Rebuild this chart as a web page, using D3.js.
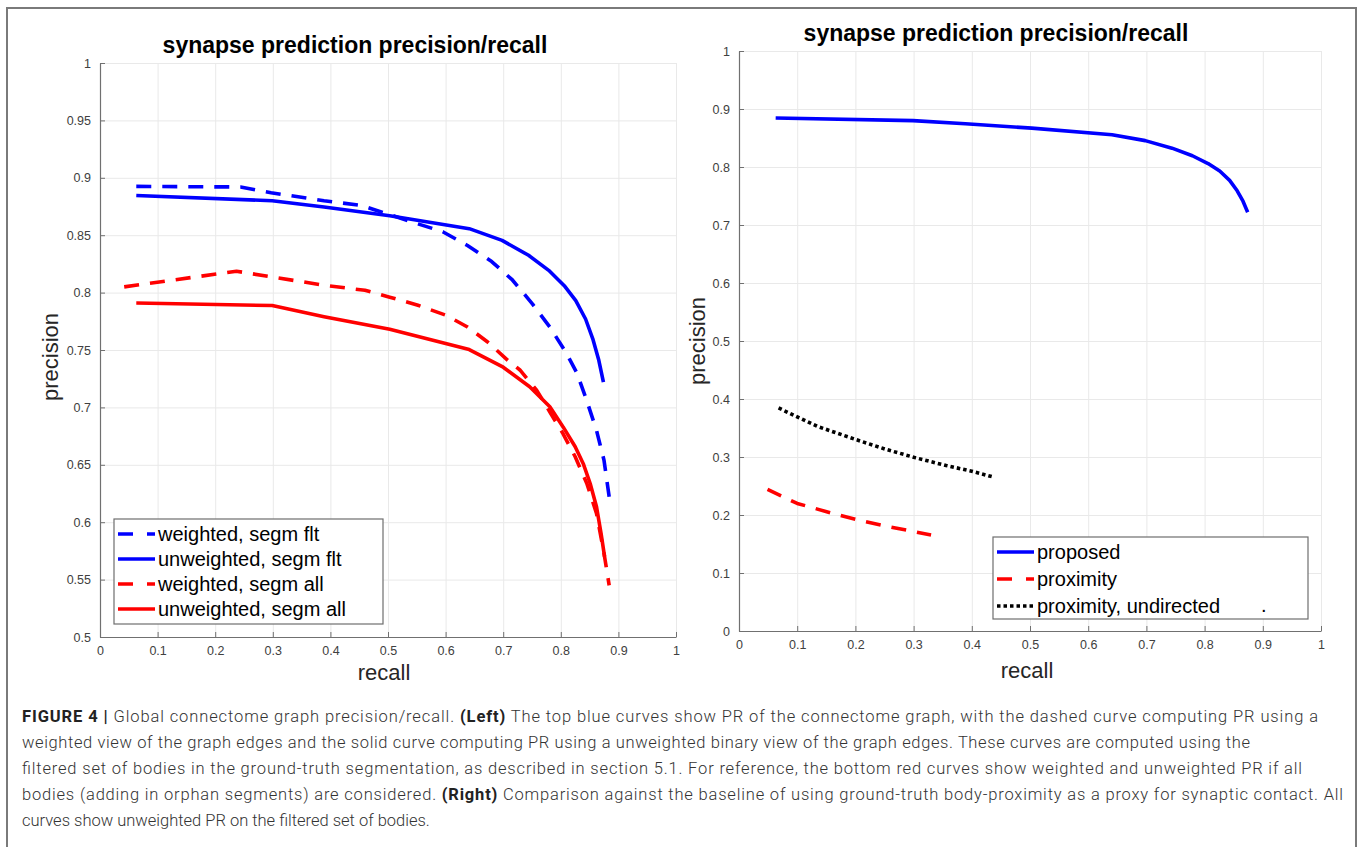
<!DOCTYPE html>
<html>
<head>
<meta charset="utf-8">
<script src="https://cdn.jsdelivr.net/npm/d3@7"></script>
<style>
  html, body { margin: 0; padding: 0; background: #fff; }
  svg { display: block; }
  text { font-family: "Liberation Sans", Arial, Helvetica, sans-serif; }
</style>
</head>
<body>
<svg id="chart" width="1362" height="847"></svg>
<script>
// ---------- data ----------
const chartTitle = "synapse prediction precision/recall";
const xLabel = "recall";
const yLabel = "precision";

const leftXTicks = [0, 0.1, 0.2, 0.3, 0.4, 0.5, 0.6, 0.7, 0.8, 0.9, 1];
const leftYTicks = [0.5, 0.55, 0.6, 0.65, 0.7, 0.75, 0.8, 0.85, 0.9, 0.95, 1];
const rightXTicks = [0, 0.1, 0.2, 0.3, 0.4, 0.5, 0.6, 0.7, 0.8, 0.9, 1];
const rightYTicks = [0, 0.1, 0.2, 0.3, 0.4, 0.5, 0.6, 0.7, 0.8, 0.9, 1];

// left: weighted, segm flt (blue dashed)
const wFltRecall    = [0.063, 0.244, 0.297, 0.389, 0.453, 0.496, 0.545, 0.595, 0.638, 0.680, 0.716, 0.751, 0.781, 0.810, 0.828, 0.845, 0.862, 0.875, 0.884];
const wFltPrecision = [0.8925, 0.892, 0.887, 0.880, 0.876, 0.869, 0.861, 0.853, 0.841, 0.827, 0.811, 0.790, 0.770, 0.747, 0.730, 0.706, 0.680, 0.654, 0.622];
// left: unweighted, segm flt (blue solid) — also "proposed" on the right
const uFltRecall    = [0.063, 0.299, 0.389, 0.503, 0.641, 0.698, 0.744, 0.779, 0.806, 0.826, 0.843, 0.856, 0.866, 0.874];
const uFltPrecision = [0.8846, 0.880, 0.8745, 0.867, 0.8557, 0.8455, 0.8325, 0.8194, 0.806, 0.793, 0.777, 0.759, 0.741, 0.722];
// left: weighted, segm all (red dashed)
const wAllRecall    = [0.042, 0.237, 0.299, 0.389, 0.460, 0.503, 0.552, 0.602, 0.638, 0.673, 0.708, 0.729, 0.758, 0.781, 0.804, 0.825, 0.845, 0.862, 0.875, 0.884];
const wAllPrecision = [0.805, 0.8186, 0.8136, 0.8064, 0.802, 0.796, 0.789, 0.780, 0.770, 0.757, 0.741, 0.7326, 0.715, 0.696, 0.677, 0.657, 0.634, 0.6076, 0.573, 0.545];
// left: unweighted, segm all (red solid)
const uAllRecall    = [0.063, 0.299, 0.389, 0.503, 0.641, 0.700, 0.746, 0.781, 0.804, 0.825, 0.839, 0.851, 0.862, 0.870, 0.876];
const uAllPrecision = [0.791, 0.7887, 0.779, 0.768, 0.7504, 0.735, 0.718, 0.7006, 0.683, 0.6657, 0.651, 0.6337, 0.6134, 0.590, 0.570];
// right: proximity (red dashed)
const proxRecall    = [0.049, 0.100, 0.157, 0.201, 0.253, 0.297, 0.330];
const proxPrecision = [0.244, 0.220, 0.2038, 0.1923, 0.1808, 0.172, 0.1655];
// right: proximity, undirected (black dotted)
const undirRecall    = [0.068, 0.134, 0.201, 0.253, 0.304, 0.356, 0.400, 0.436];
const undirPrecision = [0.3845, 0.353, 0.330, 0.313, 0.2985, 0.2853, 0.2755, 0.2657];

const leftLegend  = ["weighted, segm flt", "unweighted, segm flt", "weighted, segm all", "unweighted, segm all"];
const rightLegend = ["proposed", "proximity", "proximity, undirected"];

const captionLines = [
  [["FIGURE 4 |", true], [" Global connectome graph precision/recall. ", false], ["(Left)", true], [" The top blue curves show PR of the connectome graph, with the dashed curve computing PR using a", false]],
  [["weighted view of the graph edges and the solid curve computing PR using a unweighted binary view of the graph edges. These curves are computed using the", false]],
  [["filtered set of bodies in the ground-truth segmentation, as described in section 5.1. For reference, the bottom red curves show weighted and unweighted PR if all", false]],
  [["bodies (adding in orphan segments) are considered. ", false], ["(Right)", true], [" Comparison against the baseline of using ground-truth body-proximity as a proxy for synaptic contact. All", false]],
  [["curves show unweighted PR on the filtered set of bodies.", false]]
];
const captionEnds = [1318, 1250, 1302, 1343, null];

// ---------- drawing ----------
const svg = d3.select("#chart");
const zip = (xs, ys) => xs.map((x, i) => ({ r: x, p: ys[i] }));

// outer frame
svg.append("path")
  .attr("d", "M7,847 V8 H1356 V847")
  .attr("fill", "none").attr("stroke", "#7a7a7a").attr("stroke-width", 2);

const BLUE = "#0000ff", RED = "#ff0000", BLACK = "#000000";
const fmt = d => (d === 0 ? "0" : d === 1 ? "1" : String(+d.toFixed(2)));

function panel(cfg) {
  const x = d3.scaleLinear().domain([0, 1]).range([cfg.x0, cfg.x1]);
  const y = d3.scaleLinear().domain(cfg.yDomain).range([cfg.y1, cfg.y0]);
  const g = svg.append("g");

  // grid
  g.append("g").attr("transform", `translate(0,${cfg.y1})`)
    .call(d3.axisBottom(x).tickValues(cfg.xTicks).tickSize(-(cfg.y1 - cfg.y0)).tickFormat(""))
    .call(s => s.select(".domain").remove())
    .call(s => s.selectAll("line").attr("stroke", "#e9e9e9"));
  g.append("g").attr("transform", `translate(${cfg.x0},0)`)
    .call(d3.axisLeft(y).tickValues(cfg.yTicks).tickSize(-(cfg.x1 - cfg.x0)).tickFormat(""))
    .call(s => s.select(".domain").remove())
    .call(s => s.selectAll("line").attr("stroke", "#e9e9e9"));

  // axes
  const ax = g.append("g").attr("transform", `translate(0,${cfg.y1})`)
    .call(d3.axisBottom(x).tickValues(cfg.xTicks).tickSizeInner(-5).tickSizeOuter(0).tickPadding(9).tickFormat(fmt));
  const ay = g.append("g").attr("transform", `translate(${cfg.x0},0)`)
    .call(d3.axisLeft(y).tickValues(cfg.yTicks).tickSizeInner(-5).tickSizeOuter(0).tickPadding(9).tickFormat(fmt));
  [ax, ay].forEach(a => {
    a.select(".domain").attr("stroke", "#707070").attr("stroke-width", 1.2);
    a.selectAll(".tick line").attr("stroke", "#707070");
    a.selectAll(".tick text").attr("fill", "#404040").style("font-size", "12.5px")
      .style("font-family", '"Liberation Sans", Arial, sans-serif');
  });

  // curves
  const line = d3.line().x(d => x(d.r)).y(d => y(d.p)).curve(d3.curveLinear);
  cfg.series.forEach(s => {
    g.append("path").datum(zip(s.r, s.p))
      .attr("d", line).attr("fill", "none")
      .attr("stroke", s.color).attr("stroke-width", s.width || 3.6)
      .attr("stroke-dasharray", s.dash || null)
      .attr("stroke-linecap", "butt").attr("stroke-linejoin", "round");
  });

  // titles & labels
  svg.append("text").attr("x", cfg.titleX).attr("y", cfg.titleY)
    .attr("text-anchor", "middle").style("font-size", "23px").style("font-weight", "bold")
    .attr("fill", "#000").text(chartTitle);
  svg.append("text").attr("x", cfg.xLabX).attr("y", cfg.xLabY)
    .attr("text-anchor", "middle").style("font-size", "22px").attr("fill", "#262626").text(xLabel);
  svg.append("text").attr("transform", `translate(${cfg.yLabX},${cfg.yLabY}) rotate(-90)`)
    .attr("text-anchor", "middle").style("font-size", "22px").attr("fill", "#262626").text(yLabel);

  // legend
  const L = cfg.legend;
  const lg = svg.append("g");
  lg.append("rect").attr("x", L.x).attr("y", L.y).attr("width", L.w).attr("height", L.h)
    .attr("fill", "#fff").attr("stroke", "#6e6e6e").attr("stroke-width", 1.2);
  L.items.forEach((it, i) => {
    const cy = L.y + L.first + i * L.step;
    lg.append("line").attr("x1", L.x + 4).attr("x2", L.x + 41).attr("y1", cy).attr("y2", cy)
      .attr("stroke", it.color).attr("stroke-width", it.width || 3.6)
      .attr("stroke-dasharray", it.legendDash || null);
    lg.append("text").attr("x", L.x + 44).attr("y", cy).attr("dy", "0.35em")
      .style("font-size", "20px").attr("fill", "#000").text(it.label);
  });
  if (L.extra) lg.append("text").attr("x", L.extra.x).attr("y", L.extra.y)
    .style("font-size", "20px").attr("fill", "#000").text(L.extra.text);
}

const DASH = "15,11", LDASH = "15,14,8";
const DOT = "3.5,3";

panel({
  x0: 100, x1: 676, y0: 63, y1: 637, yDomain: [0.5, 1],
  xTicks: leftXTicks, yTicks: leftYTicks,
  titleX: 355, titleY: 53, xLabX: 384, xLabY: 680, yLabX: 58, yLabY: 357,
  series: [
    { r: wFltRecall, p: wFltPrecision, color: BLUE, dash: DASH },
    { r: uFltRecall, p: uFltPrecision, color: BLUE },
    { r: wAllRecall, p: wAllPrecision, color: RED, dash: DASH },
    { r: uAllRecall, p: uAllPrecision, color: RED }
  ],
  legend: {
    x: 114, y: 519, w: 269, h: 105, first: 15, step: 25,
    items: [
      { label: leftLegend[0], color: BLUE, legendDash: LDASH },
      { label: leftLegend[1], color: BLUE },
      { label: leftLegend[2], color: RED, legendDash: LDASH },
      { label: leftLegend[3], color: RED }
    ]
  }
});

panel({
  x0: 739, x1: 1321, y0: 51, y1: 631, yDomain: [0, 1],
  xTicks: rightXTicks, yTicks: rightYTicks,
  titleX: 996, titleY: 41, xLabX: 1027, xLabY: 678, yLabX: 705, yLabY: 341,
  series: [
    { r: uFltRecall, p: uFltPrecision, color: BLUE },
    { r: proxRecall, p: proxPrecision, color: RED, dash: DASH },
    { r: undirRecall, p: undirPrecision, color: BLACK, dash: DOT, width: 3.6 }
  ],
  legend: {
    x: 993, y: 537, w: 315, h: 82, first: 15, step: 27,
    items: [
      { label: rightLegend[0], color: BLUE },
      { label: rightLegend[1], color: RED, legendDash: LDASH },
      { label: rightLegend[2], color: BLACK, legendDash: DOT }
    ],
    extra: { x: 1261, y: 612, text: "." }
  }
});

// caption
const cap = svg.append("g");
captionLines.forEach((segs, i) => {
  const t = cap.append("text").attr("x", 22).attr("y", 722 + i * 26)
    .style("font-size", "16.5px").attr("fill", "#333")
    .style("font-family", 'Roboto, "Liberation Sans", sans-serif')
    .attr("xml:space", "preserve");
  if (captionEnds[i] !== null) {
    t.attr("textLength", captionEnds[i] - 22).attr("lengthAdjust", "spacing");
  }
  segs.forEach(([s, b]) => {
    t.append("tspan").style("font-weight", b ? "bold" : "300").attr("fill", b ? "#222" : "#333").text(s);
  });
});
</script>
</body>
</html>
